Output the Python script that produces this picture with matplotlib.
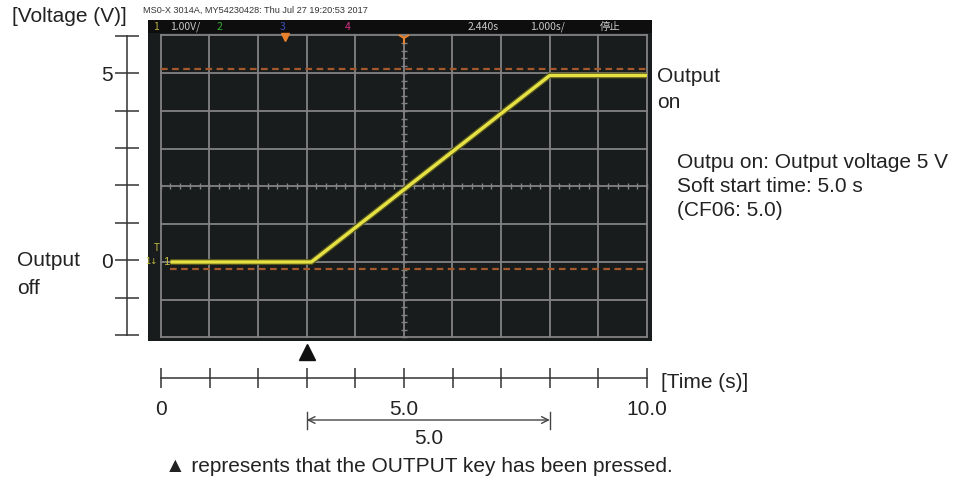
import matplotlib
matplotlib.use('Agg')
import matplotlib.pyplot as plt
import numpy as np
from matplotlib import rcParams
import matplotlib.patheffects as pe

rcParams['font.family'] = ['Liberation Sans', 'DejaVu Sans']

# scope trace (1 s/div, 1 V/div)
t_trace = [0.2, 3.1, 8.0, 10.0]
v_trace = [0.0, 0.0, 4.94, 4.94]
cursor_v = [5.12, -0.18]
press_t = 3.0
soft_start = 5.0
ramp_end = press_t + soft_start

v_ticks = list(range(-2, 7))
v_labels = {0: '0', 5: '5'}
t_ticks = list(range(0, 11))
t_labels = {0: '0', 5: '5.0', 10: '10.0'}

W, H = 959, 484


def px(x0, y0, x1, y1):
    return [x0 / W, 1 - y1 / H, (x1 - x0) / W, (y1 - y0) / H]


fig = plt.figure(figsize=(W / 100, H / 100), dpi=100)
fig.patch.set_facecolor('white')

# --- oscilloscope screen ---
sc = fig.add_axes(px(148, 20, 652, 341))
sc.set_xlim(-0.261, 10.103)
sc.set_ylim(-2.093, 6.41)
sc.set_facecolor('#181c1c')
sc.set_xticks([])
sc.set_yticks([])
for s in sc.spines.values():
    s.set_visible(False)
sc.axhspan(6.066, 6.41, color='#0e0e0e', lw=0)

gcol = '#838383'
for i in range(11):
    sc.plot([i, i], [-2, 6], color=gcol, lw=1.3)
for j in range(-2, 7):
    sc.plot([0, 10], [j, j], color=gcol, lw=1.3)
xs = np.arange(0, 10.01, 0.2)
sc.plot(xs, np.full_like(xs, 2.0), '|', ms=4, mew=1, color=gcol)
ys = np.arange(-2, 6.01, 0.2)
sc.plot(np.full_like(ys, 5.0), ys, '_', ms=4, mew=1, color=gcol)

sc.plot([0.0, 10], [cursor_v[0]] * 2, ls=(0, (3, 2)), color='#a4582c', lw=1.6)
sc.plot([0.2, 10], [cursor_v[1]] * 2, ls=(0, (3, 2)), color='#a4582c', lw=1.6)

sc.plot(t_trace, v_trace, color='#e6e244', lw=2.4,
        path_effects=[pe.Stroke(linewidth=4.2, foreground='#5a5a1c'), pe.Normal()],
        solid_capstyle='butt')

sc.plot(2.56, 5.95, 'v', color='#e8802c', ms=6)
sc.plot(5.0, 5.93, marker='1', color='#e8802c', ms=9, mew=1.5)

# left voltage axis
va = fig.add_axes(px(127, 35.7, 140, 335))
va.patch.set_visible(False)
va.set_ylim(-2, 6)
va.set_xticks([])
for k in ['top', 'right', 'bottom']:
    va.spines[k].set_visible(False)
va.spines['left'].set_color('#333333')
va.spines['left'].set_linewidth(1.1)
va.set_yticks(v_ticks)
va.set_yticklabels([v_labels.get(v, '') for v in v_ticks])
va.tick_params(axis='y', direction='inout', length=17, width=1.1, pad=2,
               labelsize=15, color='#333333', labelcolor='#222222')

# time axis
ta = fig.add_axes(px(161, 340, 647, 445))
ta.patch.set_visible(False)
ta.set_xlim(0, 10)
ta.set_ylim(445, 340)
ta.set_yticks([])
for k in ['top', 'right', 'left']:
    ta.spines[k].set_visible(False)
ta.spines['bottom'].set_position(('data', 378))
ta.spines['bottom'].set_color('#333333')
ta.spines['bottom'].set_linewidth(1.1)
ta.set_xticks(t_ticks)
ta.set_xticklabels([t_labels.get(t, '') for t in t_ticks])
ta.tick_params(axis='x', direction='inout', length=15, width=1.1, pad=8.5,
               labelsize=15, color='#333333', labelcolor='#222222')

ta.plot(press_t, 352, marker='^', color='#111111', ms=11, clip_on=False)
ta.annotate('', xy=(press_t, 420), xytext=(ramp_end, 420),
            arrowprops=dict(arrowstyle='<->', color='#444444', lw=1,
                            mutation_scale=12, shrinkA=0, shrinkB=0))
ta.plot([press_t] * 2, [412, 429], color='#444444', lw=1)
ta.plot([ramp_end] * 2, [412, 429], color='#444444', lw=1)
ta.text((press_t + ramp_end) / 2, 438, f'{soft_start:.1f}', fontsize=15,
        ha='center', va='center', color='#222222')

# --- texts ---
ov = fig.add_axes([0, 0, 1, 1])
ov.set_xlim(0, W)
ov.set_ylim(H, 0)
ov.axis('off')
ov.patch.set_visible(False)

fs = 15
tc = '#222222'
ov.text(12, 17, '[Voltage (V)]', fontsize=fs, va='center', color=tc)
ov.text(17, 261, 'Output', fontsize=fs, va='center', color=tc)
ov.text(17, 288, 'off', fontsize=fs, va='center', color=tc)
ov.text(657, 77, 'Output', fontsize=fs, va='center', color=tc)
ov.text(657, 103, 'on', fontsize=fs, va='center', color=tc)
ov.text(677, 163, 'Outpu on: Output voltage 5 V', fontsize=fs, va='center', color=tc)
ov.text(677, 187, 'Soft start time: 5.0 s', fontsize=fs, va='center', color=tc)
ov.text(677, 211, '(CF06: 5.0)', fontsize=fs, va='center', color=tc)
ov.text(661, 382, '[Time (s)]', fontsize=fs, va='center', color=tc)
ov.text(165, 466, '▲ represents that the OUTPUT key has been pressed.',
        fontsize=fs, va='center', color=tc)

ov.text(143, 10, 'MS0-X 3014A, MY54230428: Thu Jul 27 19:20:53 2017',
        fontsize=6.6, va='center', color='#333333')

bar = [(153, '1', '#b8b040'), (170, '1.00V/', '#c8c8c8'), (217, '2', '#30b030'),
       (280, '3', '#4050c0'), (345, '4', '#d03080'), (468, '2.440s', '#c8c8c8'),
       (530, '1.000s/', '#c8c8c8'), (600, '停止', '#c8c8c8')]
for x, s, c in bar:
    ov.text(x, 27, s, fontsize=7.5, va='center', color=c,
            family=['Noto Sans CJK JP', 'DejaVu Sans'])

ov.text(157, 248, 'T', fontsize=7, va='center', ha='center', color='#c8c040')
ov.text(163, 262, '1', fontsize=8, va='center', ha='left', color='#c8c040')
ov.text(151, 262, '1↓', fontsize=6, va='center', ha='center', color='#c8c040',
        family=['DejaVu Sans'])

plt.savefig('out.png', dpi=100)
